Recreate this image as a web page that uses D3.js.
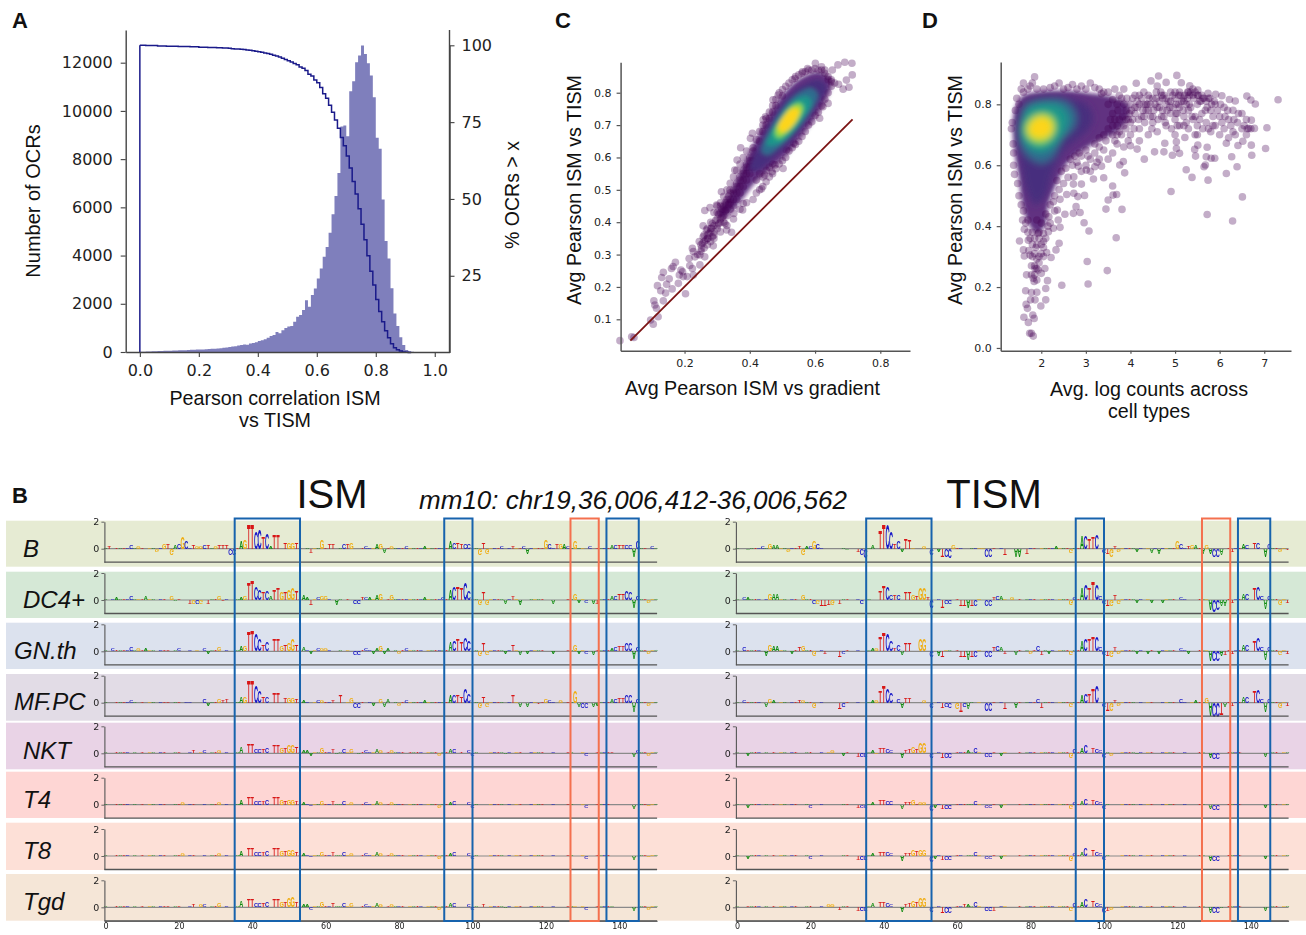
<!DOCTYPE html>
<html lang="en">
<head>
<meta charset="UTF-8">
<title>ISM vs TISM</title>
<script src="https://d3js.org/d3.v7.min.js"></script>
<style>
  html, body { margin: 0; padding: 0; background: #fff; }
  svg { display: block; }
  text { font-family: "Liberation Sans", Arial, sans-serif; fill: #111; }
</style>
</head>
<body>
<script>
// ---- panel A: histogram of 0.01 wide bins, and % of OCRs above x
const histCounts = [10,15,20,25,30,30,40,45,50,55,55,60,65,70,70,75,85,90,95,100,
  105,105,110,120,130,135,150,160,175,190,205,225,240,270,290,310,300,350,370,400,
  460,490,530,590,660,700,830,780,900,1000,1060,1076,1256,1463,1530,1740,2150,1877,2360,2636,
  3050,3460,3950,4360,4950,5710,6470,7420,9350,9400,8950,10820,11230,12020,12300,12710,12365,11980,11470,10570,
  8890,8430,6330,4600,3880,2640,1600,1076,607,290,83,30,10,0];
const pctAbove = [100,100,99.9,99.9,99.9,99.9,99.8,99.8,99.8,99.7,
  99.7,99.7,99.7,99.6,99.6,99.6,99.6,99.5,99.5,99.5,
  99.4,99.4,99.4,99.3,99.3,99.3,99.2,99.2,99.1,99.1,
  99,98.9,98.8,98.8,98.7,98.6,98.5,98.4,98.2,98.1,
  97.9,97.7,97.5,97.3,97.1,96.8,96.5,96.2,95.8,95.4,95,
  94.6,94.1,93.7,92.9,92.5,91.8,90.6,90,88.7,87.8,86.3,84.2,82.8,80.5,78.2,75.7,73,70,67.3,
  64,60.1,55.7,51.6,46.8,41.8,36.7,31.5,26.5,22,17.3,13.4,10,7.1,4.8,2.9,1.6,.9,.5,.2,.1,0,0];
const binWidth = 0.01;
const aCountTicks = [0,2000,4000,6000,8000,10000,12000];
const aPctTicks = [25,50,75,100];
const aXTicks = [0,.2,.4,.6,.8,1];

// ---- panel C: scatter points, density rings inner last
const cPoints = [[.002,.034],[.038,.046],[.045,.044],[.096,.098],[.104,.085],[.119,.108],[.109,.144],[.106,.157],[.135,.157],[.114,.134],
  [.127,.188],[.117,.204],[.142,.181],[.145,.208],[.13,.229],[.135,.245],[.162,.194],[.153,.225],[.165,.263],[.172,.276],[.181,.211],[.184,.237],
  [.194,.247],[.189,.252],[.203,.179],[.208,.232],[.216,.266],[.227,.237],[.224,.257],[.16,.257],[.196,.232],[.214,.288],[.227,.309],[.232,.293],
  [.247,.299],[.262,.293],[.224,.319],[.245,.34],[.252,.319],[.247,.268],[.288,.327],[.257,.355],[.272,.35],[.257,.389],[.267,.376],[.283,.381],
  [.262,.436],[.278,.445],[.298,.453],[.313,.494],[.339,.499],[.344,.369],[.329,.376],[.324,.396],[.351,.427],[.378,.438],[.38,.458],[.436,.503],
  [.354,.561],[.361,.592],[.372,.63],[.408,.675],[.402,.659],[.441,.716],[.448,.726],[.471,.778],[.487,.793],[.502,.566],[.468,.556],[.446,.546],
  [.477,.577],[.535,.644],[.512,.623],[.614,.721],[.538,.844],[.577,.875],[.601,.891],[.561,.865],[.653,.87],[.67,.886],[.691,.894],[.713,.891],
  [.714,.855],[.696,.839],[.704,.817],[.686,.811],[.672,.826],[.64,.767],[.624,.757],[.65,.834],
  [.24,.30],[.25,.33],[.26,.32],[.27,.35],[.26,.36],[.28,.34],[.27,.38],[.29,.36],[.29,.39],[.30,.38],[.28,.40],[.30,.41],[.31,.40],[.29,.43],
  [.31,.43],[.32,.42],[.30,.45],[.32,.45],[.33,.44],[.31,.46],[.33,.47],[.34,.46],[.32,.48],[.34,.49],[.35,.47],[.33,.50],[.35,.50],[.36,.49],
  [.34,.52],[.36,.52],[.37,.51],[.35,.54],[.37,.54],[.38,.53],[.36,.56],[.38,.56],[.39,.55],[.37,.58],[.39,.58],[.40,.57],[.38,.60],[.40,.60],
  [.41,.59],[.39,.62],[.41,.62],[.41,.63],[.42,.655],[.43,.68],[.44,.70],[.45,.72],[.46,.74],[.47,.76],[.48,.78],[.49,.80],[.50,.81],[.52,.83],
  [.54,.85],[.56,.86],[.58,.87],[.60,.875],[.62,.87],[.63,.86],[.64,.84],[.65,.82],[.64,.80],[.63,.78],[.62,.76],[.61,.74],[.60,.73],[.59,.71],
  [.58,.70],[.57,.68],[.56,.665],[.55,.65],[.54,.64],[.53,.63],[.52,.62],[.51,.60],[.50,.59],[.49,.58],[.48,.565],[.47,.55],[.46,.54],[.45,.525],
  [.44,.51],[.43,.50],[.42,.49],[.41,.47],[.39,.46],[.37,.44],[.35,.41],[.33,.39],[.31,.37],[.29,.35],
  [.25,.31],[.26,.34],[.27,.33],[.27,.36],[.28,.37],[.28,.38],[.29,.37],[.30,.39],[.30,.43],[.31,.41],[.31,.45],[.32,.44],[.32,.40],[.33,.42],[.33,.46],
  [.34,.44],[.34,.47],[.35,.45],[.35,.49],[.36,.47],[.36,.51],[.37,.49],[.37,.53],[.38,.51],[.38,.55],[.39,.53],[.39,.57],[.40,.55],[.40,.59],[.41,.57],
  [.42,.53],[.42,.60],[.43,.55],[.44,.54],[.45,.56],[.46,.57],[.47,.58],[.44,.68],[.45,.70],[.43,.65],[.46,.72],[.47,.74],[.48,.76],[.50,.79],[.51,.82],
  [.53,.84],[.55,.855],[.57,.865],[.59,.87],[.61,.87],[.64,.85],[.65,.84],[.66,.83],[.63,.87],[.62,.88],
  [.255,.335],[.265,.345],[.275,.365],[.285,.355],[.285,.395],[.295,.405],[.305,.395],[.305,.425],[.315,.415],[.315,.44],[.325,.435],[.325,.46],[.335,.455],[.335,.48]];
const cLine = [[.034,.034],[.715,.718]];
const cXTicks = [.2,.4,.6,.8];
const cYTicks = [.1,.2,.3,.4,.5,.6,.7,.8];
const cRings = [
  [[.3,.425],[.33,.475],[.359,.53],[.395,.608],[.431,.68],[.471,.752],[.512,.808],[.563,.85],[.614,.865],[.65,.839],[.635,.783],[.599,.721],[.553,.659],[.502,.597],[.451,.556],[.41,.515],[.38,.475],[.345,.435],[.315,.41]],
  [[.4,.561],[.431,.644],[.471,.721],[.512,.783],[.563,.824],[.609,.839],[.635,.819],[.614,.772],[.573,.711],[.522,.644],[.471,.597],[.426,.561]],
  [[.436,.618],[.461,.685],[.502,.752],[.548,.798],[.589,.814],[.609,.793],[.589,.747],[.543,.685],[.497,.639],[.456,.608]],
  [[.451,.639],[.471,.685],[.507,.742],[.548,.783],[.579,.788],[.589,.767],[.563,.721],[.522,.669],[.482,.639]],
  [[.471,.669],[.492,.716],[.522,.757],[.553,.772],[.568,.757],[.548,.711],[.512,.669],[.487,.654]],
  [[.479,.682],[.499,.721],[.528,.757],[.553,.764],[.561,.752],[.543,.711],[.512,.678],[.489,.664]],
  [[.487,.695],[.507,.731],[.533,.752],[.551,.747],[.543,.716],[.517,.685],[.497,.678]]
];

// ---- panel D
const dPoints = [[1.78,.048],[1.82,.039],[1.74,.048],[1.61,.101],[1.71,.084],[1.84,.097],[1.81,.108],[1.69,.13],[1.66,.143],[1.86,.158],[1.76,.158],
  [1.99,.138],[2.1,.158],[1.65,.188],[1.78,.182],[1.9,.183],[2.1,.195],[2.46,.206],[3.05,.21],[3.48,.254],[3.03,.284],[2.14,.221],[1.67,.24],[1.78,.24],
  [1.86,.261],[1.93,.256],[1.9,.223],[1.82,.229],[2.08,.261],[2,.245],[1.84,.218],[1.6,.322],[1.62,.302],[1.51,.351],[1.75,.305],[1.9,.292],[2.05,.3],
  [2.22,.297],[2.12,.313],[2.33,.322],[2.4,.344],[1.71,.354],[1.9,.338],[2.05,.376],[1.93,.376],[2.16,.382],[2.27,.393],[2.42,.396],[2.38,.42],[2.17,.431],
  [2.53,.439],[2.36,.453],[2.78,.464],[2.72,.442],[2.87,.445],[2.96,.411],[3.07,.384],[3.68,.362],[3.45,.456],[3.81,.455],[3.5,.486],[3.61,.502],[3.69,.504],
  [3.6,.532],[2.57,.504],[2.73,.508],[2.82,.497],[2.97,.501],[2.72,.538],[2.9,.538],[2.42,.488],[2.27,.48],[2.73,.562],[3.17,.555],[3.4,.559],[3.87,.575],
  [3.35,.597],[3.76,.601],[3.84,.612],[3.01,.584],[3.2,.595],[2.83,.597],[4.31,.62],[4.91,.514],[4.15,.653],[4,.664],[4.54,.644],[4.77,.672],[4.75,.644],
  [4.94,.633],[5.1,.639],[5.03,.655],[5.25,.585],[5.38,.56],[5.74,.551],[5.65,.595],[5.68,.601],[6.15,.573],[6.39,.595],[6.51,.496],[5.72,.438],[6.29,.417],
  [5.46,.63],[5.81,.623],[5.7,.628],[5.89,.623],[6.27,.628],[6.72,.633],[7.03,.655],[6.71,.666],[6.41,.665],[6.15,.672],[5.72,.659],[5.44,.652],[5.22,.691],
  [5.51,.666],[5.03,.677],[7.06,.723],[6.78,.721],[6.65,.721],[6.52,.679],[6.71,.748],[7.31,.815],[6.8,.801],[6.7,.814],[6.61,.827],[6.35,.811],[6.22,.816],
  [6.05,.828],[5.91,.833],[5.74,.836],[5.51,.847],[5.33,.861],[5.14,.871],[5.04,.895],[4.8,.872],[4.63,.893],[4.46,.877],[4.13,.869],
  [3.7,.80],[3.8,.82],[3.9,.78],[4,.80],[4,.74],[4.1,.83],[4.1,.77],[4.2,.80],[4.2,.72],[4.3,.84],[4.3,.76],[4.4,.78],[4.4,.70],[4.5,.82],[4.5,.74],[4.6,.86],
  [4.6,.79],[4.6,.71],[4.7,.83],[4.7,.76],[4.8,.80],[4.8,.73],[4.9,.84],[4.9,.77],[5,.82],[5,.75],[5,.70],[5.1,.79],[5.1,.84],[5.1,.73],[5.2,.81],[5.2,.76],
  [5.3,.84],[5.3,.78],[5.3,.72],[5.4,.83],[5.4,.75],[5.5,.80],[5.5,.73],[5.5,.70],[5.6,.83],[5.6,.77],[5.7,.81],[5.7,.74],[5.8,.78],[5.8,.71],[5.9,.80],[5.9,.73],
  [6,.76],[6,.70],[6.1,.79],[6.1,.72],[6.2,.75],[6.2,.69],[6.3,.78],[6.3,.71],[6.4,.74],[6.5,.72],[6.5,.77],[6.6,.70],[6.7,.72],[6.6,.75],[3.6,.77],[3.7,.73],
  [3.8,.70],[3.9,.72],[3.5,.72],[3.6,.70],[3.5,.80],[3.4,.70],[3.4,.84],[3.3,.66],[3.2,.64],[3.1,.62],[3.2,.67],[3,.65],[2.9,.63],[2.8,.61],[2.7,.60],[3.4,.65],
  [3.6,.64],[3.5,.62],[3,.60],[3.1,.58],[2.9,.58],[4,.70],[4.2,.68],[1.55,.85],[1.7,.85],[1.85,.89],[2.4,.87],[2.6,.855],[2.9,.86],[3.1,.87],[3.3,.85],[2.2,.855],
  [1.6,.87],[1.8,.87],[1.35,.74],[1.33,.72],[1.37,.67],[1.38,.64],[1.38,.6],[1.4,.57],[1.47,.54],[1.5,.5],[1.55,.47],[1.58,.42],[1.62,.39],[1.5,.8],[1.42,.78],
  [1.6,.45],[1.7,.42],[1.8,.38],[1.75,.36],[1.85,.36],[1.95,.38],[1.9,.42],[2,.41],[2.1,.44],[2.2,.47],[2.3,.5],[2.4,.52],[2.5,.54],[2.6,.56],[1.8,.30],[1.85,.27],
  [1.95,.30],[1.88,.33],[2,.34],[2.1,.36],[2.2,.41],[2.45,.58],[2.35,.55],[2.75,.63],[2.65,.62],[3.3,.62],[3.7,.67],[3.85,.66],[3.95,.68],
  [3.72,.78],[3.75,.83],[3.82,.76],[3.85,.80],[3.92,.82],[3.95,.75],[4.02,.78],[4.05,.82],[4.08,.72],[4.15,.79],[4.18,.75],[4.25,.82],[4.28,.78],[4.32,.74],[4.35,.80],
  [4.42,.82],[4.45,.76],[4.48,.72],[4.55,.80],[4.58,.84],[4.62,.75],[4.65,.81],[4.72,.78],[4.75,.83],[4.78,.74],[4.85,.81],[4.88,.79],[4.92,.72],[4.95,.83],[5.02,.80],
  [5.05,.77],[5.08,.83],[5.15,.81],[5.18,.78],[5.22,.83],[5.25,.74],[5.28,.82],[5.32,.80],[5.35,.84],[5.38,.76],[5.42,.82],[5.45,.70],[5.52,.83],[5.55,.75],[5.58,.81],
  [5.62,.72],[5.65,.82],[5.72,.79],[5.75,.72],[5.78,.82],[5.85,.76],[5.88,.81],[5.95,.78],[6.02,.80],[6.05,.74],[6.12,.76],[6.18,.78],[6.25,.73],[6.32,.75],[6.35,.70],
  [6.42,.77],[6.55,.73],[6.62,.72],[1.45,.82],[1.6,.84],[1.75,.86],[1.9,.85],[2.05,.85],[2.3,.86],[2.5,.85],[2.7,.865],[2.8,.85],[3,.85],[3.2,.855],[3.35,.835],[3.5,.84],
  [3.65,.85],[3.85,.85],[3.6,.815],[3.55,.75],[3.75,.75],[3.3,.69],[3.45,.68],[3.65,.68],[2.55,.59],[2.85,.64],[3.05,.63],[3.25,.61],[2.3,.45],[2.15,.40],[2.05,.35],
  [1.95,.36],[1.85,.31],[1.8,.34],[1.7,.38],[1.65,.41],[1.9,.26],[1.85,.24],[1.95,.28],[2.05,.33],[1.78,.27],[1.72,.32],[2,.31],
  [4.35,.78],[4.38,.80],[4.4,.83],[4.45,.80],[4.52,.78],[4.58,.82],[4.65,.79],[4.68,.84],[4.72,.82],[4.8,.82],[4.82,.78],[4.9,.81],[4.95,.79],[5,.84],[5.02,.77],[5.08,.80],
  [5.12,.83],[5.18,.82],[5.25,.80],[5.28,.84],[5.32,.83],[5.35,.79],[5.4,.85],[5.45,.84],[5.5,.83],[5.55,.81],[5.62,.82],[5.68,.78],[5.75,.82],[5.82,.80],[5.85,.73],[4.15,.81],
  [4.2,.83],[4.25,.76],[4.3,.80],[4.1,.79],[4.05,.75],[3.98,.77],[3.9,.75],[3.85,.73],[3.75,.71],[3.7,.70],[3.65,.75],[3.6,.73],[4.5,.76],[4.75,.76],[5.2,.73],[5.45,.76],[5.05,.73]];
const dXTicks = [2,3,4,5,6,7];
const dYTicks = [0,.2,.4,.6,.8];
const dRings = [
  [[1.41,.781],[1.56,.825],[1.93,.841],[2.6,.845],[3.2,.835],[3.6,.825],[3.95,.80],[3.95,.755],[3.7,.71],[3.3,.68],[3,.655],[2.6,.61],[2.31,.53],[2.16,.47],[2.08,.40],[1.9,.376],[1.71,.409],[1.56,.486],[1.5,.562],[1.41,.639],[1.37,.716]],
  [[1.45,.748],[1.6,.803],[2.01,.825],[2.6,.82],[3,.80],[3.15,.765],[3.1,.727],[2.85,.69],[2.55,.655],[2.27,.584],[2.08,.497],[1.86,.47],[1.67,.52],[1.56,.595],[1.48,.672]],
  [[1.52,.737],[1.67,.798],[2.08,.816],[2.57,.809],[2.79,.765],[2.75,.726],[2.46,.683],[2.27,.628],[2.01,.606],[1.67,.633],[1.52,.677]],
  [[1.56,.732],[1.71,.787],[2.08,.803],[2.46,.792],[2.62,.754],[2.53,.71],[2.27,.661],[1.97,.641],[1.71,.659],[1.56,.688]],
  [[1.6,.721],[1.75,.759],[2.01,.776],[2.27,.765],[2.37,.726],[2.23,.683],[1.97,.663],[1.75,.677]],
  [[1.65,.716],[1.75,.751],[2.01,.768],[2.25,.754],[2.31,.721],[2.19,.688],[1.97,.674],[1.75,.685]],
  [[1.71,.721],[1.82,.748],[2.01,.759],[2.19,.748],[2.25,.721],[2.16,.696],[1.97,.688],[1.78,.696]]
];
const ringColors = ["#45106b","#462f7e","#2f6c8e","#1f948b","#3bbb75","#a5db36","#fdd51e"];

// ---- panel B: letters as position, base, height
const cellTypes = ["B","DC4+","GN.th","MF.PC","NKT","T4","T8","Tgd"];
const bandColors = ["#e6ebd3","#d5e8d6","#dce2ee","#e2dce6","#e9d3e6","#fed6d4","#fde0d7","#f5e6d7"];
const logoTicksX = [0,20,40,60,80,100,120,140];
const logoTicksY = [0,2];
const blueBoxes = [[35.2,53],[92.3,100],[136.5,145.3]];
const redBoxes = [[126.7,134.4]];

const ismLogos = [
  "1T.15 7C.25 9G.2 14G-.2 16G.4 17T.4 18G-.5 19A.3 20C.4 21G.85 22C.6 24T.3 25G.2 26G.2 27C.3 28T.3 30G.2 31T.3 32T.3 33T.3 34C-.5 35C-.5 36T.1 37A.6 38G.7 39T1.9 40T1.9 41C1.3 42C1.5 43T.9 44C1.2 45A.2 46T1.1 47T1.1 49T.5 50G.5 51G.5 52T.5 55A.1 56T-.3 59G.7 61T.4 62T.4 65C.35 66T.35 67G.45 71C.15 74A.35 75G.4 76A-.3 78G.15 82C.2 87A.2 94A.6 95C.5 96T.5 97T.35 98C.4 99C.4 102G-.5 103T.45 104G-.35 108C.15 111T.15 114C.2 115A-.4 118T.1 120G.7 121C.4 123T.4 124G.4 125A.4 126C.2 128G.6 129A.1 132C.15 138A.3 139C.3 140T.3 141T.3 142C.25 143C.25 144A-.6 145C.6 149C.15",
  "2C.1 3A.2 7C.25 9G.1 11A.25 18G.3 19A-.1 23T-.3 24G-.25 25C-.3 26G-.3 28T-.25 31G.3 32T-.1 37A.2 38G.3 39T1.3 40T1.5 41C1 42C.8 43T.6 44C.7 45A.3 46T.8 47T.9 48G.6 49T.6 50G.8 51G.9 52T.7 54A.35 55A.2 56T-.35 58C.2 59G.3 60G.3 63A-.4 66T.1 68C-.25 69C-.25 70T.2 71C.2 72A.2 74A.35 75G.45 78G.35 82C.1 87A.15 92C.15 94A.8 95C1 96T1 97T.9 98C1.3 99C.7 100T.1 102G-.4 103T.55 104G-.35 109A-.3 111T.25 113A-.35 116A.1 122A-.25 128G.5 129A-.2 131C-.2 133A-.3 134T-.25 138A.25 139C.3 140T.5 141T.5 142C.7 143C.6 144A-.6 145C.3 148G-.2",
  "2C.2 7C.25 9G.15 11A.2 17T.1 20C.15 25G.1 27C.2 28A-.2 31G.3 37A.35 38G.4 39T1.5 40T1.6 41C1.3 42C.9 43T.5 44C.7 46T.9 47T.9 48G.4 49T.45 50G.6 51G.85 52T.5 54A.3 56A-.2 58C.2 59G.2 60G.2 68C-.3 69C-.3 71C.2 73A-.15 74A.2 75G.4 76A-.2 77A.15 80G-.15 82C.2 94A.7 95C.8 96T.9 97T.7 98C1 99C.75 102G-.4 103T.55 104G-.3 109A-.2 111T.45 113A-.3 115A-.2 122A-.2 128G.5 129A-.2 131C-.15 133A-.25 138A.2 139C.25 140T.4 141T.4 142C.6 143C.6 144A-.6 145C.3 148G-.2",
  "7C.15 17T.1 22C.1 27C.3 28A-.2 31G.25 32T.2 33T.25 37A.45 38G.5 39T1.7 40T1.7 41C1.3 42C.9 43T.5 44C.5 46T.75 47T.75 49T.35 50G.35 51G.35 52T.3 54A.2 58C.15 59G.15 62T.15 64T.6 67G.4 68C-.35 69C-.35 73A-.2 75G.25 76A-.25 77A.25 80G-.15 82C.2 87A.2 94A.55 95C.55 96T.55 97T.5 98C1.1 99C.7 102G-.35 103T.5 104G-.3 111T.55 113A-.3 115A-.25 118T-.1 120G.3 121C.2 124G.15 128G.85 129A-.3 130C-.35 131C-.35 133A-.3 134A-.2 138A.25 139C.3 140T.35 141T.4 142C.55 143C.55 144A-.7 145C.3 148G-.2",
  "24T.2 26G.1 27C.2 31G.2 37A.45 39T.65 40T.65 41C.3 42C.3 43T.3 44C.4 46T.6 47T.6 48G.4 49T.4 50G.6 51G.6 52T.5 54A.2 55A.2 56A-.2 59G.4 62T.25 63A-.1 65C.3 67G.25 69A-.1 71C.15 74A.3 75G.2 78G.15 83T.1 91G-.15 94A.3 95C.25 97T.1 99C.2 100C-.2 109A-.1 131C-.15 138T.1 144A-.3 145C.15 148G-.15",
  "21G.2 24T.1 27C.1 31G.2 37A.4 39T.6 40T.55 41C.3 42C.3 43T.25 44C.35 46T.55 47T.55 48G.35 49T.3 50G.35 51G.4 52T.25 54A.15 56C-.1 59G.25 62T.25 63A.1 65C.25 67G.2 71C.15 74A.3 75G.15 78G.15 91G-.2 94A.2 95C.25 99C.15 100C-.15 131C-.15 144A-.25 148G-.1",
  "21G.2 24T.1 27C.1 31G.2 37A.35 39T.6 40T.6 41C.3 42C.3 43T.25 44C.35 46T.55 47T.55 48G.35 49T.35 50G.5 51G.5 52T.3 54A.15 56C-.1 59G.25 62T.25 63A.1 65C.25 67G.2 71C.15 74A.3 75G.15 78G.15 91G-.2 94A.2 95C.25 99C.15 100C-.2 131C-.15 144A-.25 148G-.1",
  "17T.1 24T.2 26G.15 27C.2 31G.25 37A.45 39T.6 40T.55 41C.3 42C.3 43T.3 44C.35 46T.55 47T.55 48G.4 49T.4 50G.7 51G.75 52T.4 54A.2 55A.15 56C-.15 59G.35 62T.3 63A.1 65C.3 67G.25 71C.15 74A.3 75G.2 78G.15 91G-.2 94A.3 95C.25 99C.2 100C-.2 103T.15 109A-.1 128G.1 131C-.15 138A.1 144A-.3 148G-.15"
];
const tismLogos = [
  "7C.15 9G.35 10A.25 11A.25 3A-.1 14G-.2 17T.2 18G-.5 19A.2 20C.2 21G.6 22C.4 30A-.1 33T-.2 34C-.5 35C-.7 37A.25 39T1.4 40T1.9 41C1.9 42C1.3 43T.4 44C.6 45A-.2 46T.75 47T.7 48G.1 51G.15 53C-.5 55A-.2 56T-.6 57C-.6 58C-.7 59G.3 65C.1 67G.1 68C-.6 69C-.6 73T-.45 76A-.6 77A-.55 79T-.4 87A.2 91G-.3 94A1 95C1 96T.8 97T.9 98C1.1 100C-.3 101T-.4 102G-.55 103T.2 104G-.2 109A-.2 113A-.25 114C.1 115A-.35 120G.55 121C.4 123T.2 124G.25 125A.25 127A-.4 128G.3 129A-.4 130C-.6 131C-.55 132A-.5 135T-.2 138A.35 139C.3 141T.5 142C.45 144A-.6 145C.35 148G-.2 150T-.1",
  "2C.2 3A.2 8C.1 9G.45 10A.45 11A.45 18G.4 21C-.3 22G-.3 23T-.45 24T-.45 25T-.4 26G-.4 28T-.25 34C-.3 39T.7 40T1.1 41C1 42C.4 43T.4 44C.4 46T.55 47T.6 48G.35 49T.3 50G.9 51G.9 52T.2 53C-.6 56T-.6 57C-.3 58C-.3 61T-.45 62T-.5 63A-.6 64T-.5 65C-.5 68C-.5 69C-.5 70T.2 71C.25 72A.25 75G.15 91G-.35 92C.2 94A.9 95C1.2 96T.9 97T1.4 98C1.2 99C.3 100C-.3 101T-.45 102G-.5 103T.4 104G-.25 109A-.2 113A-.2 116A-.2 121C.2 128G.1 129A-.8 130C-.85 131C-.8 132A-.45 133A-.45 135T-.2 138A.5 139C.5 141T.9 142C.95 143C.3 144A-.65 145C.3 148G-.35 150T-.2",
  "2C.3 8A-.35 9G.45 10A.4 11A.4 15A-.15 17T.3 18G.4 21G-.4 24T-.2 28T-.45 29C-.2 37A.2 38G.2 39T1.1 40T1.4 41C1.3 42C.8 43T.2 44C.5 45A-.3 46T.6 47T.6 50G.9 51G.9 53C-.5 55A-.4 56T-.45 61T-.5 62T-.5 63A-.7 64T-.5 65C-.5 68C-.45 69C-.45 70T.3 71C.35 72A.3 73T-.2 76A-.25 80G-.2 82C.35 83T-.3 85A-.15 91G-.3 94A.8 95C.9 96T.9 97T1.1 98C1.1 99C.25 100C-.3 101T-.4 102G-.5 103T.25 104G-.2 109A-.2 112A-.2 115A-.2 121C.2 123A-.2 128G.1 129A-.8 130C-.75 131C-.75 132A-.4 133T-.3 135T-.2 138A.45 139C.45 141T.8 142C.95 143C.3 144A-.65 145C.25 148G-.3 150T-.2",
  "2C.15 8A-.3 9G.3 10A.15 17T.15 18G.15 21G-.4 28T-.5 29C-.25 37A.2 38G.2 39T.9 40T1.3 41C1.1 42C.8 44C.25 45A-.4 46T.4 47T.35 51G.2 53C-.4 56T-.4 57C-.3 58C-.35 60G-.5 61T-.7 62C-.25 63A-.5 68C-.6 69C-.6 73T-.45 76A-.4 82C.25 83T-.4 91G-.3 94A.6 95C.7 96T.7 97T1.1 98C1.3 100C-.3 101T-.6 102G-.55 103T.2 104G-.2 121C.3 124G.1 125A.2 128G.4 129A-1 130C-1.05 131C-1.05 132T-.9 133A-.3 135T-.2 138A.5 139C.5 141T.9 142C1 143C.25 144A-.7 145C.3 148G-.35 150T-.2",
  "3A-.15 25G.1 26G.15 29A-.15 33T-.3 34C-.3 35C-.3 37A.2 38G-.1 39T.4 40T.4 41C.3 42C.2 45A-.4 46T.2 47T.25 48G.5 49T.3 50G.8 51G.8 53C-.4 56T-.4 57C-.4 58C-.4 62T.1 63A.2 65C.35 68C-.3 69C-.3 72A-.15 91G-.35 92C.3 94A.4 95C.6 97T.4 98C.3 99C.2 100C-.4 102G-.2 109A-.1 129A-.4 130C-.45 131C-.45 144A-.25",
  "3A-.15 20C-.15 33T-.2 34C-.2 35C-.2 37A.15 39T.35 40T.35 41C.3 42C.25 45A-.25 46T.2 47T.2 48G.35 49T.1 50G.2 51G.2 53C-.5 54A-.2 56T-.25 57C-.25 58C-.25 62T.1 63A.1 65C.3 68C-.2 69C-.2 72A-.15 91G-.3 92C.2 94A.25 95C.45 97T.35 98C.25 99C.15 100C-.3 129A-.25 130C-.35 131C-.35 144A-.15",
  "3A-.2 20C-.15 33T-.25 34C-.25 35C-.25 37A.2 39T.3 40T.3 41C.25 42C.2 45A-.35 46T.15 47T.2 48G.45 49T.4 50G.45 51G.45 53C-.45 54A-.15 56T-.3 57C-.3 58C-.3 63A.1 65C.3 68C-.2 69C-.2 72A-.2 91G-.35 92C.2 94A.3 95C.55 97T.45 98C.25 99C.15 100C-.3 129A-.35 130C-.4 131C-.4 144A-.2",
  "25G.15 26G.2 28T-.2 33T-.25 34C-.25 35C-.25 37A.25 39T.4 40T.4 41C.25 42C.2 45A-.4 46T.2 47T.25 48G.5 49T.35 50G.7 51G.7 53C-.35 56T-.45 57C-.45 58C-.45 62T.2 63A.2 65C.4 68C-.25 69C-.25 70T-.25 91G-.3 92C.3 94A.4 95C.6 97T.45 98C.3 99C.15 100C-.45 101T-.3 102G-.2 129A-.45 130C-.5 131C-.5 132A-.1 144A-.25"
];
// tiny letters that sit along the zero line of most rows
const smallLetters = "0A.08 3T.09 4A.1 5T.08 6C.1 8A.08 10T.09 12G.1 13A.08 15C.09 16T.08 19A.09 20T.08 23C.1 29A.08 30T.09 33C.08 36A.09 53T.1 55C.09 57G.1 58A.08 60T.1 61C.09 64A.1 66G.09 70T.1 72C.09 73G.08 77T.09 79A.1 80C.09 81T.08 83G.1 84A.09 85T.08 86C.1 88G.09 89A.08 90T.1 91C.09 92A.08 93T.09 101A.1 105G.1 106C.09 107T.08 108A.09 110C.1 112G.09 113T.08 116C.1 117G.09 118A.08 119T.09 122C.08 126T.1 127A.1 130G.09 134T.1 135A.1 136C.09 137T.1 146A.1 147T.09 149G.08 150A.09";

// ---- layout
const svg = d3.select("body").append("svg").attr("width", 1306).attr("height", 935);
const defs = svg.append("defs");
[["blurEdge", 2], ["blurC", 2.2], ["blurD", 3.5], ["blurLogo", 0.3]].forEach(function(b) {
  defs.append("filter").attr("id", b[0]).attr("x", "-20%").attr("y", "-20%").attr("width", "140%").attr("height", "140%")
    .append("feGaussianBlur").attr("stdDeviation", b[1]);
});

function styleAxis(g, color, labelSize, width) {
  g.selectAll("path.domain").attr("stroke", color).attr("stroke-width", width);
  g.selectAll(".tick line").attr("stroke", color).attr("stroke-width", width * 0.8);
  g.selectAll(".tick text").attr("font-size", labelSize)
    .style("font-family", "'DejaVu Sans', sans-serif").style("fill", "#222");
}

function label(x, y, str, size, opts) {
  opts = opts || {};
  const t = svg.append("text").attr("font-size", size).attr("text-anchor", opts.anchor || "middle");
  if (opts.rotate) t.attr("transform", "translate(" + x + "," + y + ") rotate(-90)");
  else t.attr("x", x).attr("y", y);
  if (opts.bold) t.attr("font-weight", "bold");
  if (opts.italic) t.attr("font-style", "italic");
  if (opts.len) t.attr("textLength", opts.len).attr("lengthAdjust", "spacingAndGlyphs");
  t.text(str);
  return t;
}

// panel letters
label(12, 28, "A", 22, {anchor: "start", bold: true});
label(12, 503, "B", 22, {anchor: "start", bold: true});
label(555, 28, "C", 22, {anchor: "start", bold: true});
label(922, 28, "D", 22, {anchor: "start", bold: true});

// ---- A
const ax = d3.scaleLinear().domain([-0.048, 1.05]).range([125.7, 449.5]);
const ay = d3.scaleLinear().domain([0, 13356]).range([352, 30]);
const ayPct = d3.scaleLinear().domain([0, 100]).range([352.6, 45.3]);

const aHist = d3.area().curve(d3.curveStepAfter)
  .x((d, i) => ax(i * binWidth)).y0(ay(0)).y1(d => ay(d));
svg.append("path").datum(histCounts).attr("d", aHist).attr("fill", "#7f7fbc");

const aCurve = d3.line().curve(d3.curveStepAfter)
  .x((d, i) => ax(i * binWidth)).y(d => ayPct(d));
svg.append("path").datum(pctAbove).attr("d", aCurve)
  .attr("fill", "none").attr("stroke", "#1a1a8a").attr("stroke-width", 1.5);
svg.append("line").attr("x1", ax(0)).attr("x2", ax(0)).attr("y1", ay(0)).attr("y2", ayPct(100))
  .attr("stroke", "#1a1a8a").attr("stroke-width", 1.5);

svg.append("g").attr("transform", "translate(0,352)")
  .call(d3.axisBottom(ax).tickValues(aXTicks).tickFormat(d3.format(".1f")).tickSize(5).tickSizeOuter(0).tickPadding(8))
  .call(g => styleAxis(g, "#444", 16, 1.4));
svg.append("g").attr("transform", "translate(125.7,0)")
  .call(d3.axisLeft(ay).tickValues(aCountTicks).tickFormat(d3.format("d")).tickSize(5).tickSizeOuter(0).tickPadding(8))
  .call(g => styleAxis(g, "#444", 16, 1.4));
svg.append("g").attr("transform", "translate(449.5,0)")
  .call(d3.axisRight(ayPct).tickValues(aPctTicks).tickSize(5).tickSizeOuter(0).tickPadding(7))
  .call(g => styleAxis(g, "#444", 16, 1.4));
svg.append("line").attr("x1", 449.5).attr("x2", 449.5).attr("y1", 30).attr("y2", 352).attr("stroke", "#444").attr("stroke-width", 1.4);

label(40, 201, "Number of OCRs", 20, {rotate: true});
label(519, 195, "% OCRs > x", 19.5, {rotate: true});
label(275, 405, "Pearson correlation ISM", 19.7);
label(275, 427, "vs TISM", 19.7);

// ---- scatter panels, shared draw
function scatterPanel(o) {
  const g = svg.append("g");
  const ring = d3.line().curve(d3.curveCatmullRomClosed).x(d => o.x(d[0])).y(d => o.y(d[1]));
  // outermost ring under the points so the edge keeps its dots
  g.append("path").datum(o.rings[0]).attr("d", ring).attr("fill", ringColors[0])
    .attr("fill-opacity", 0.85).attr("filter", "url(#blurEdge)");
  g.selectAll("circle").data(o.points).enter().append("circle")
    .attr("cx", d => o.x(d[0])).attr("cy", d => o.y(d[1])).attr("r", 3.8)
    .attr("fill", "#440154").attr("fill-opacity", 0.32);
  g.append("g").attr("filter", "url(#" + o.blur + ")")
    .selectAll("path").data(o.rings.slice(1)).enter().append("path")
    .attr("d", ring).attr("fill", (d, i) => ringColors[i + 1]);
  g.append("g").attr("transform", "translate(0," + o.y.range()[0] + ")")
    .call(d3.axisBottom(o.x).tickValues(o.xTicks).tickFormat(o.xFmt).tickSize(3).tickSizeOuter(0).tickPadding(6))
    .call(a => styleAxis(a, "#555", 11, 1.5));
  g.append("g").attr("transform", "translate(" + o.x.range()[0] + ",0)")
    .call(d3.axisLeft(o.y).tickValues(o.yTicks).tickFormat(d3.format(".1f")).tickSize(4).tickSizeOuter(0).tickPadding(5))
    .call(a => styleAxis(a, "#555", 11, 1.5));
}

const cx = d3.scaleLinear().domain([.004, .891]).range([620.6, 910]);
const cy = d3.scaleLinear().domain([.003, .894]).range([350.7, 62.3]);
scatterPanel({points: cPoints, rings: cRings, x: cx, y: cy, blur: "blurC",
  xTicks: cXTicks, yTicks: cYTicks, xFmt: d3.format(".1f")});
svg.append("line").datum(cLine)
  .attr("x1", d => cx(d[0][0])).attr("y1", d => cy(d[0][1]))
  .attr("x2", d => cx(d[1][0])).attr("y2", d => cy(d[1][1]))
  .attr("stroke", "#7b1414").attr("stroke-width", 1.8);
label(581, 190, "Avg Pearson ISM vs TISM", 19.5, {rotate: true, len: 230});
label(752.5, 395, "Avg Pearson ISM vs gradient", 19.5, {len: 255});

const dx = d3.scaleLinear().domain([1.09, 7.6]).range([1000.7, 1291]);
const dy = d3.scaleLinear().domain([-.009, .939]).range([350.7, 62]);
scatterPanel({points: dPoints, rings: dRings, x: dx, y: dy, blur: "blurD",
  xTicks: dXTicks, yTicks: dYTicks, xFmt: d3.format("d")});
label(962, 190, "Avg Pearson ISM vs TISM", 19.5, {rotate: true, len: 230});
label(1149, 396, "Avg. log counts across", 19.5, {len: 198});
label(1149, 418, "cell types", 19.5, {len: 82});

// ---- B
label(332, 508, "ISM", 40);
label(994, 508, "TISM", 40);
label(633, 509, "mm10: chr19,36,006,412-36,006,562", 26, {italic: true});

// band tops, heights, and y of value 0 of each row
const bandTop = [520.7,571.7,622.7,674,722.7,771.7,822.7,874];
const bandBottom = [566.7,618,669,720.7,769.3,818,870,920.7];
const zeroY = [548.7,600,651.3,702.7,753.3,804.7,856,907.3];
const labelX = [23,23,14,14,23,23,23,23];
const labelY = [557,608,659,710,759,808,859,910];
const baseColor = {A: "#0c8a0c", C: "#1414c8", G: "#f0ac0c", T: "#d81818"};
const unitPx = 13.5;

svg.append("g").selectAll("rect").data(cellTypes).enter().append("rect")
  .attr("x", 6).attr("width", 1300)
  .attr("y", (d, i) => bandTop[i])
  .attr("height", (d, i) => bandBottom[i] - bandTop[i])
  .attr("fill", (d, i) => bandColors[i]);

cellTypes.forEach(function(name, i) {
  label(labelX[i], labelY[i], name, 24, {anchor: "start", italic: true});
});

function parseLogo(str) {
  return str.split(" ").map(function(tok) {
    const m = tok.match(/^(\d+)([ACGT])(-?[\d.]+)$/);
    return {pos: +m[1], base: m[2], h: +m[3]};
  });
}

// glyph box at 10px bold, to scale letters into their slot
const capHeight = 7.25, glyphWidth = 7.2;

function logoColumn(logos, left) {
  const pxPerPos = 3.67;
  const x = d3.scaleLinear().domain([-0.3, 150.3])
    .range([left - 0.3 * pxPerPos, left + 150.3 * pxPerPos]);
  const small = parseLogo(smallLetters);
  logos.forEach(function(str, i) {
    const y = d3.scaleLinear().domain([-1, 2]).range([zeroY[i] + unitPx, zeroY[i] - 2 * unitPx]);
    const g = svg.append("g");
    const own = parseLogo(str);
    const taken = new Set(own.map(d => d.pos));
    const letters = small.filter(d => !taken.has(d.pos)).concat(own);
    g.append("line").attr("x1", x.range()[0]).attr("x2", x.range()[1]).attr("y1", y(0)).attr("y2", y(0))
      .attr("stroke", "#8a8a8a").attr("stroke-width", 1.2);
    g.append("g").attr("filter", "url(#blurLogo)")
      .selectAll("text").data(letters).enter().append("text")
      .attr("font-size", 10).attr("font-weight", "bold").attr("text-anchor", "middle")
      .style("fill", d => baseColor[d.base])
      .attr("transform", d => "translate(" + x(d.pos) + "," + y(0) + ") scale(" +
        (pxPerPos / glyphWidth * 1.1) + "," + (d.h * unitPx / capHeight) + ")")
      .text(d => d.base);
    const ya = g.append("g").attr("transform", "translate(" + x.range()[0] + ",0)")
      .call(d3.axisLeft(y).tickValues(logoTicksY).tickFormat(d3.format("d")).tickSize(3).tickSizeOuter(0).tickPadding(2));
    styleAxis(ya, "#555", 9.5, 1.1);
    g.append("line").attr("x1", x.range()[0]).attr("x2", x.range()[1]).attr("y1", y(-1)).attr("y2", y(-1))
      .attr("stroke", "#555").attr("stroke-width", 1.3);
    if (i === logos.length - 1) {
      const xa = g.append("g").attr("transform", "translate(0," + y(-1) + ")")
        .call(d3.axisBottom(x).tickValues(logoTicksX).tickSize(2).tickSizeOuter(0).tickPadding(1));
      styleAxis(xa, "#555", 8, 1);
    }
  });
  const boxes = blueBoxes.map(b => [b, "#1763ad"]).concat(redBoxes.map(b => [b, "#f4704e"]));
  svg.append("g").selectAll("rect").data(boxes).enter().append("rect")
    .attr("x", d => x(d[0][0])).attr("width", d => x(d[0][1]) - x(d[0][0]))
    .attr("y", 518.5).attr("height", 402.5)
    .attr("fill", "none").attr("stroke", d => d[1]).attr("stroke-width", 2);
}

logoColumn(ismLogos, 105.5);
logoColumn(tismLogos, 737);
</script>
</body>
</html>
